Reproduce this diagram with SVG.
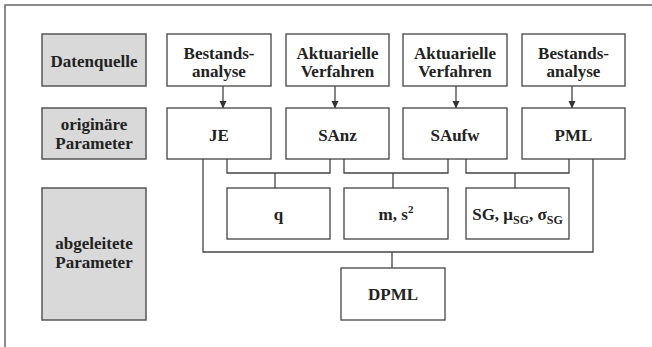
<svg xmlns="http://www.w3.org/2000/svg" width="652" height="347" viewBox="0 0 652 347">
<defs>
<style>
.box{fill:#fff;stroke:#444;stroke-width:1.3}
.gray{fill:#d9d9d9;stroke:#555;stroke-width:1.5}
text{font-family:'Liberation Serif','DejaVu Serif',serif;font-weight:bold;font-size:17px;fill:#222;text-anchor:middle}
.ln{fill:none;stroke:#444;stroke-width:1.3}
</style>
<marker id="arr" markerWidth="8" markerHeight="8" refX="7" refY="4" orient="auto" markerUnits="userSpaceOnUse">
<path d="M0,0.5 L7.5,4 L0,7.5 Z" fill="#333"/>
</marker>
</defs>
<rect x="0" y="0" width="652" height="347" fill="#fff"/>
<rect x="5" y="5" width="700" height="400" fill="none" stroke="#666" stroke-width="1.5"/>

<g id="row-labels" font-family="Liberation Serif, DejaVu Serif, serif">
<g id="lbl-datenquelle"><rect class="gray" x="42" y="34" width="104" height="52"/><text x="94" y="67">Datenquelle</text></g>
<g id="lbl-originaere"><rect class="gray" x="42" y="108" width="104" height="51"/><text x="94" y="130">originäre</text><text x="94" y="149">Parameter</text></g>
<g id="lbl-abgeleitete"><rect class="gray" x="42" y="188" width="104" height="132"/><text x="94" y="249">abgeleitete</text><text x="94" y="268">Parameter</text></g>
</g>

<g id="connectors">
<line class="ln" x1="223" y1="86" x2="223" y2="108" marker-end="url(#arr)"/>
<line class="ln" x1="335" y1="86" x2="335" y2="108" marker-end="url(#arr)"/>
<line class="ln" x1="456" y1="86" x2="456" y2="108" marker-end="url(#arr)"/>
<line class="ln" x1="572" y1="86" x2="572" y2="108" marker-end="url(#arr)"/>
<polyline class="ln" points="203,159 203,252 593,252 593,159"/>
<polyline class="ln" points="227,159 227,173 330,173 330,159"/>
<line class="ln" x1="275" y1="173" x2="275" y2="188"/>
<polyline class="ln" points="344,159 344,173 448,173 448,159"/>
<line class="ln" x1="393" y1="173" x2="393" y2="188"/>
<polyline class="ln" points="466,159 466,173 569,173 569,159"/>
<line class="ln" x1="515" y1="173" x2="515" y2="188"/>
<line class="ln" x1="392" y1="252" x2="392" y2="268"/>
</g>

<g id="src-bestand1"><rect class="box" x="167" y="34" width="104" height="52"/><text x="219" y="59">Bestands-</text><text x="219" y="77">analyse</text></g>
<g id="src-akt1"><rect class="box" x="286" y="34" width="103" height="52"/><text x="337.5" y="59">Aktuarielle</text><text x="337.5" y="77">Verfahren</text></g>
<g id="src-akt2"><rect class="box" x="403" y="34" width="104" height="52"/><text x="455" y="59">Aktuarielle</text><text x="455" y="77">Verfahren</text></g>
<g id="src-bestand2"><rect class="box" x="522" y="34" width="103" height="52"/><text x="573.5" y="59">Bestands-</text><text x="573.5" y="77">analyse</text></g>

<g id="p-je"><rect class="box" x="167" y="108" width="104" height="51"/><text x="219" y="141">JE</text></g>
<g id="p-sanz"><rect class="box" x="286" y="108" width="103" height="51"/><text x="337.5" y="141">SAnz</text></g>
<g id="p-saufw"><rect class="box" x="403" y="108" width="104" height="51"/><text x="455" y="141">SAufw</text></g>
<g id="p-pml"><rect class="box" x="522" y="108" width="103" height="51"/><text x="573.5" y="141">PML</text></g>

<g id="d-q"><rect class="box" x="227" y="188" width="103" height="51"/><text x="278.5" y="220">q</text></g>
<g id="d-ms"><rect class="box" x="344" y="188" width="104" height="51"/><text x="396" y="220">m, s<tspan font-size="11" dy="-7">2</tspan></text></g>
<g id="d-sg"><rect class="box" x="466" y="188" width="103" height="51"/><text x="517.5" y="220">SG, μ<tspan font-size="12" dy="4">SG</tspan><tspan dy="-4">, σ</tspan><tspan font-size="12" dy="4">SG</tspan></text></g>
<g id="d-dpml"><rect class="box" x="341" y="268" width="104" height="52"/><text x="393" y="300">DPML</text></g>
</svg>
